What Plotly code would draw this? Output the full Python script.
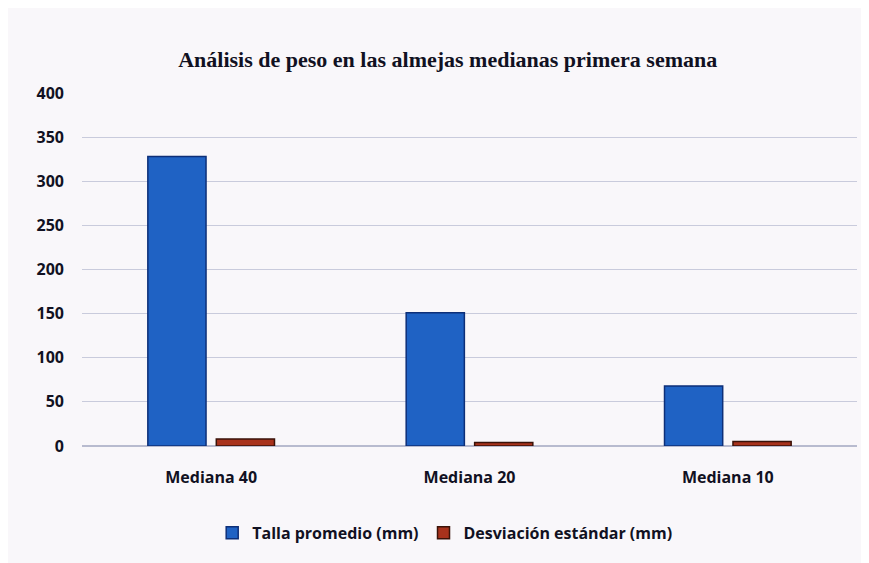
import plotly.graph_objects as go

categorias = ["Mediana 40", "Mediana 20", "Mediana 10"]
talla_promedio = [328, 151, 68]
desviacion = [8, 4, 5]

fig = go.Figure(
    data=[
        go.Bar(
            x=categorias,
            y=talla_promedio,
            name="Talla promedio (mm)",
            marker=dict(color="#1f62c4", line=dict(color="#0d2f78", width=1.5)),
        ),
        go.Bar(
            x=categorias,
            y=desviacion,
            name="Desviación estándar (mm)",
            marker=dict(color="#a8321c", line=dict(color="#3a1208", width=1.5)),
        ),
    ]
)

fig.update_layout(
    width=869,
    height=563,
    paper_bgcolor="#f9f7fa",
    plot_bgcolor="#f9f7fa",
    margin=dict(l=74, r=20, t=85, b=125),
    bargap=0.47,
    bargroupgap=0.15,
    title=dict(
        text="<b>Análisis de peso en las almejas medianas primera semana</b>",
        x=0.506,
        xanchor="center",
        y=0.908,
        yanchor="middle",
        font=dict(family="Liberation Serif", size=22, color="#111122"),
    ),
    xaxis=dict(
        showgrid=False,
        showline=False,
        ticks="",
        ticklabelstandoff=20,
        tickfont=dict(family="Open Sans", size=16, color="#111122", weight="bold"),
    ),
    yaxis=dict(
        range=[0, 400],
        dtick=50,
        showgrid=True,
        gridcolor="#c9cbdc",
        gridwidth=1,
        zeroline=True,
        zerolinecolor="#b8bbcf",
        ticks="",
        ticklabelstandoff=17,
        tickfont=dict(family="Open Sans", size=16, color="#111122", weight="bold"),
    ),
    legend=dict(
        orientation="h",
        x=0.468,
        xanchor="center",
        y=-0.246,
        yanchor="middle",
        font=dict(family="Open Sans", size=16, color="#111122", weight="bold"),
        itemwidth=30,
    ),
)

fig.write_html("out.html")
